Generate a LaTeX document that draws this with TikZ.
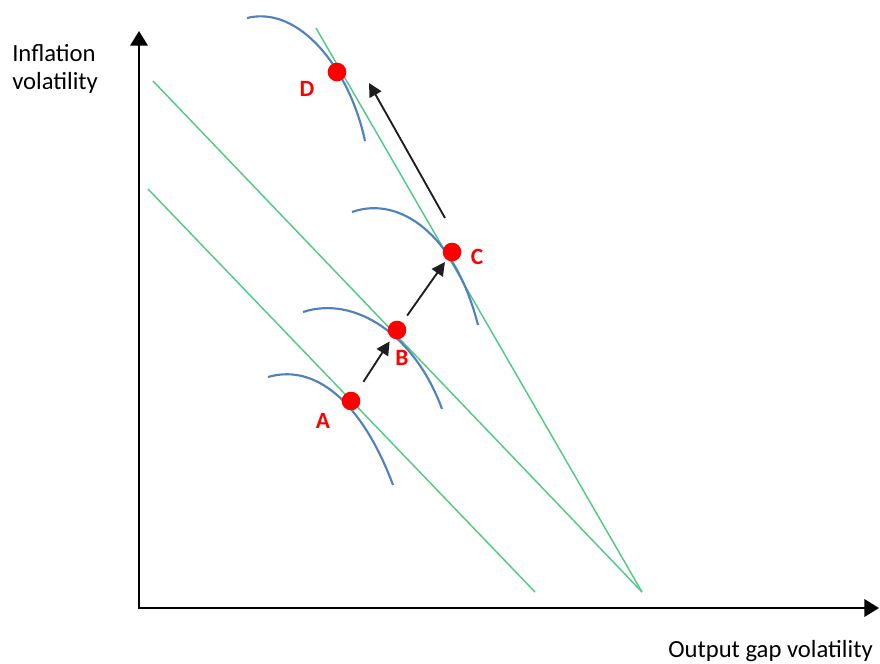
\documentclass[tikz,border=0pt]{standalone}
\usepackage{fontspec}
\setmainfont{Carlito}
\usetikzlibrary{arrows.meta}

\definecolor{curveblue}{RGB}{79,129,189}
\definecolor{linegreen}{RGB}{85,200,135}
\definecolor{dotred}{RGB}{255,0,0}
\definecolor{arrowgray}{RGB}{30,30,30}

\begin{document}
\begin{tikzpicture}[x=0.75pt,y=-0.75pt,
  axis/.style={line width=1.9pt,{Triangle[length=11pt,width=13pt]}-{Triangle[length=11pt,width=13pt]}},
  budget/.style={linegreen,line width=1.1pt},
  indiff/.style={curveblue,line width=1.6pt},
  dot/.style={circle,fill=dotred,inner sep=0pt,minimum size=14pt},
  dotlabel/.style={text=dotred,font=\bfseries\fontsize{17.5}{20}\selectfont},
  move/.style={arrowgray,line width=1.4pt,-{Triangle[length=10pt,width=10pt]}},
  axislabel/.style={font=\fontsize{18.5}{21}\selectfont,align=left,inner sep=0pt}]
  \useasboundingbox (0,0) rectangle (880,663);

  % Axes
  \coordinate (ytop) at (139,31);
  \coordinate (origin) at (139,608);
  \coordinate (xend) at (879,608);
  \draw[axis] (ytop) -- (origin) -- (xend);
  \node[axislabel,anchor=north west] (ylab) at (12,44) {Inflation\\volatility};
  \node[axislabel,anchor=base east] (xlab) at (873,657) {Output gap volatility};

  % Green lines
  \coordinate (g1s) at (148,189);
  \coordinate (g1e) at (535,592);
  \coordinate (g2s) at (153,81);
  \coordinate (g3s) at (316,28);
  \coordinate (apex) at (642,592);
  \draw[budget] (g1s) -- (g1e);
  \draw[budget] (g2s) -- (apex);
  \draw[budget] (g3s) -- (apex);

  % Blue curves
  \draw[indiff] (268,377) .. controls (320,362) and (365,410) .. (393,485);
  \draw[indiff] (303,312) .. controls (355,295) and (415,335) .. (442,409);
  \draw[indiff] (352,212) .. controls (400,195) and (455,235) .. (478,325);
  \draw[indiff] (247,18) .. controls (300,5) and (350,70) .. (365,141);

  % Points
  \node[dot] (ptA) at (351,401) {};
  \node[dot] (ptB) at (397,330) {};
  \node[dot] (ptC) at (452,252) {};
  \node[dot] (ptD) at (337,72) {};
  \node[dotlabel] (labA) at (323,421) {A};
  \node[dotlabel] (labB) at (402,358) {B};
  \node[dotlabel] (labC) at (477,257) {C};
  \node[dotlabel] (labD) at (307,89) {D};

  % Arrows
  \draw[move,shorten <=10pt,shorten >=3pt] (ptA) -- (ptB);
  \draw[move,shorten <=6pt,shorten >=2pt] (ptB) -- (ptC);
  \coordinate (riseS) at (445,218);
  \coordinate (riseE) at (369,83);
  \draw[move] (riseS) -- (riseE);
\end{tikzpicture}
\end{document}
